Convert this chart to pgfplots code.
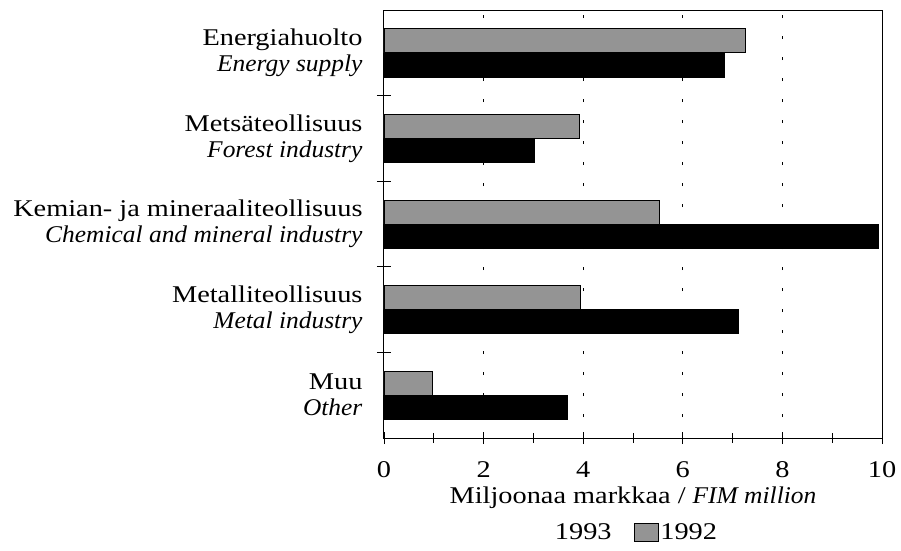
\documentclass[border=0pt]{standalone}
\usepackage{fontspec}
\setmainfont{Liberation Serif}[FakeStretch=1.18, ItalicFeatures={FakeStretch=1.06}]
\usepackage{pgfplots}
\pgfplotsset{compat=1.18}
\begin{document}
\begin{tikzpicture}
\path[use as bounding box] (-384pt,-112pt) rectangle (517pt,438pt);
\begin{axis}[
  scale only axis, width=498pt, height=428pt,
  at={(0,0)}, anchor=south west,
  font=\fontsize{24}{26}\selectfont,
  /pgf/number format/assume math mode=true,
  xmin=0, xmax=10, ymin=-0.5, ymax=4.5,
  xtick={0,2,4,6,8,10}, minor xtick={1,3,5,7,9},
  xtick pos=bottom, tick align=center,
  major tick length=12pt, minor tick length=10pt,
  xmajorgrids, major grid style={black, line width=1pt, dash pattern=on 3.5pt off 17.5pt},
  ytick={0,1,2,3,4},
  yticklabels={{Muu\\\textit{Other}},{Metalliteollisuus\\\textit{Metal industry}},{Kemian- ja mineraaliteollisuus\\\textit{Chemical and mineral industry}},{Metsäteollisuus\\\textit{Forest industry}},{Energiahuolto\\\textit{Energy supply}}},
  yticklabel style={align=right, font=\fontsize{24}{26}\selectfont, xshift=-12pt},
  ytick style={draw=none},
  extra y ticks={0.5,1.5,2.5,3.5}, extra y tick labels={},
  extra y tick style={ytick style={draw=black}, major tick length=14pt, grid=none, ytick pos=left},
  xticklabel style={anchor=center, yshift=-26pt},
  axis line style={line width=1pt},
  tick style={line width=0.8pt, black},
  xlabel={Miljoonaa markkaa / \textit{FIM million}},
  xlabel style={at={(rel axis cs:0.5,0)}, anchor=center, yshift=-60pt},
  legend columns=2,
  legend style={draw=none, at={(0.506,-0.22)}, anchor=center, font=\fontsize{24}{26}\selectfont,
    /tikz/every even column/.append style={column sep=20pt}},
]
\addplot[xbar, bar width=0.28, bar shift=0.14, fill=black!42, draw=black, line width=0.8pt, forget plot]
  coordinates {(7.25,4) (3.92,3) (5.54,2) (3.94,1) (0.98,0)};
\addplot[xbar, bar width=0.28, bar shift=-0.14, fill=black, draw=black, forget plot]
  coordinates {(6.83,4) (3.01,3) (9.92,2) (7.11,1) (3.67,0)};
\addlegendimage{empty legend}
\addlegendentry{1993}
\addlegendimage{legend image code/.code={\draw[fill=black!42, draw=black, line width=0.8pt] (0pt,-9pt) rectangle (24pt,9pt);}}
\addlegendentry{1992}
\end{axis}
\end{tikzpicture}
\end{document}
